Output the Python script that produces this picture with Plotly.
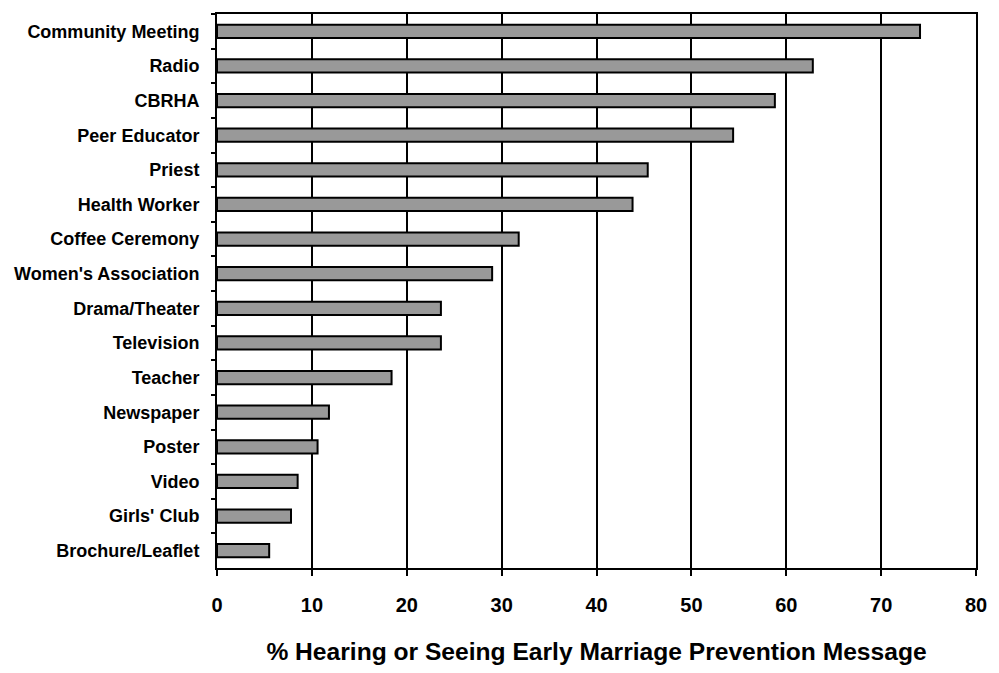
import plotly.graph_objects as go

categories = ["Community Meeting", "Radio", "CBRHA", "Peer Educator", "Priest",
              "Health Worker", "Coffee Ceremony", "Women's Association",
              "Drama/Theater", "Television", "Teacher", "Newspaper", "Poster",
              "Video", "Girls' Club", "Brochure/Leaflet"]
values = [74.1, 62.8, 58.8, 54.4, 45.4, 43.8, 31.8, 29.0,
          23.6, 23.6, 18.4, 11.8, 10.6, 8.5, 7.8, 5.5]
x_ticks = [0, 10, 20, 30, 40, 50, 60, 70, 80]
x_title = "% Hearing or Seeing Early Marriage Prevention Message"

font_family = "Liberation Sans, Arial, sans-serif"

fig = go.Figure(go.Bar(
    y=categories, x=values, orientation="h",
    marker=dict(color="#999999", line=dict(color="black", width=2)),
    hoverinfo="x+y",
))

fig.update_layout(
    width=999, height=673,
    margin=dict(l=217, r=15, t=12, b=99),
    paper_bgcolor="white", plot_bgcolor="white",
    bargap=0.62,
    showlegend=False,
    font=dict(family=font_family, color="black", weight="bold"),
)

fig.update_xaxes(
    range=[0, 80], tickvals=x_ticks, ticktext=[str(t) for t in x_ticks],
    showgrid=True, gridcolor="black", gridwidth=2,
    showline=True, linecolor="black", linewidth=2, mirror=True,
    ticks="outside", ticklen=6, tickwidth=2, tickcolor="black",
    tickfont=dict(size=20, family=font_family, weight="bold"),
    ticklabelstandoff=12,
    zeroline=False,
    title=dict(text=x_title, font=dict(size=24.6, family=font_family, weight="bold"), standoff=28),
)

fig.update_yaxes(
    categoryorder="array", categoryarray=categories, autorange="reversed",
    showline=True, linecolor="black", linewidth=2, mirror=True,
    ticks="outside", ticklen=4, tickwidth=2, tickcolor="black",
    tickson="boundaries",
    tickfont=dict(size=18, family=font_family, weight="bold"),
    ticklabelstandoff=12,
    showgrid=False,
)

fig.write_html("out.html", config={"displayModeBar": False},
               post_script="document.body.style.margin='0';document.body.style.overflow='hidden';")
